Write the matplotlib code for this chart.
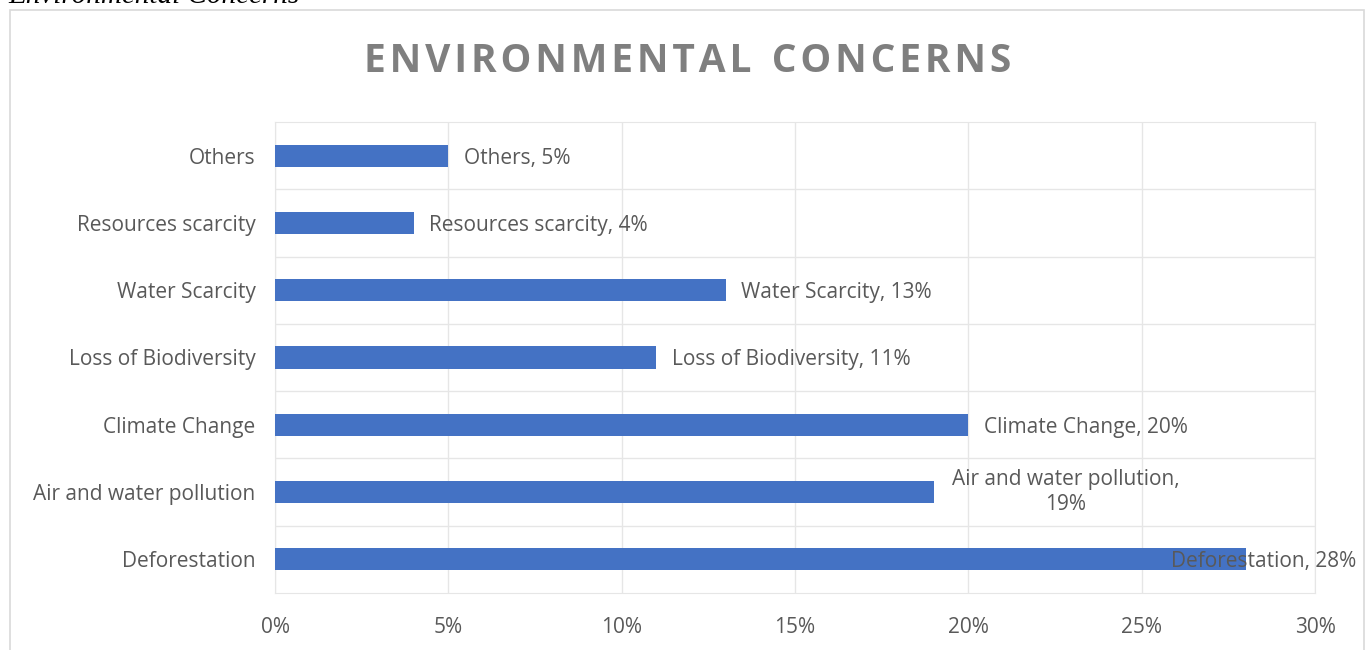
import matplotlib.pyplot as plt
from matplotlib.patches import Rectangle

categories = ["Deforestation", "Air and water pollution", "Climate Change",
              "Loss of Biodiversity", "Water Scarcity", "Resources scarcity", "Others"]
shares = [28, 19, 20, 11, 13, 4, 5]
xticks = [0, 5, 10, 15, 20, 25, 30]

BAR = "#4472c4"
TXT = "#595959"
GRID = "#e6e6e6"

plt.rcParams["font.family"] = ["Open Sans", "DejaVu Sans"]

fig = plt.figure(figsize=(13.67, 6.5), dpi=100)
ax = fig.add_axes([275 / 1367, 1 - 593 / 650, 1040 / 1367, 471 / 650])

y = list(range(len(categories)))
ax.barh(y, shares, height=0.33, color=BAR, zorder=3)

ax.set_xlim(0, 30)
ax.set_ylim(-0.5, len(categories) - 0.5)
ax.set_xticks(xticks)
ax.set_xticklabels([f"{t}%" for t in xticks])
ax.set_yticks(y)
ax.set_yticklabels(categories)
ax.set_yticks([i + 0.5 for i in y[:-1]], minor=True)
ax.tick_params(axis="both", which="both", length=0, colors=TXT, labelsize=15)
ax.tick_params(axis="x", pad=17)
ax.tick_params(axis="y", pad=14)
ax.grid(True, axis="x", color=GRID, lw=1, zorder=0)
ax.grid(True, axis="y", which="minor", color=GRID, lw=1, zorder=0)
for s in ax.spines.values():
    s.set_color(GRID)

# value labels next to each bar
for yi, name, v in zip(y, categories, shares):
    if name == "Air and water pollution":
        ax.text(v + 3.8, yi, "Air and water pollution,\n19%",
                ha="center", va="center", fontsize=15, color=TXT, linespacing=1.25)
    elif v >= 25:
        ax.text(31.2, yi, f"{name}, {v}%", ha="right", va="center_baseline",
                fontsize=15, color=TXT, zorder=4)
    else:
        ax.text(v + 0.45, yi, f"{name}, {v}%", ha="left", va="center_baseline",
                fontsize=15, color=TXT)

title = "  ".join("\u200a".join(w) for w in "ENVIRONMENTAL CONCERNS".split())
fig.text(688 / 1367, 1 - 61 / 650, title,
         ha="center", va="center", fontsize=28, fontweight="bold", color="#7f7f7f")

# chart frame and clipped caption above it
fig.patches.append(Rectangle((10 / 1367, -0.01), 1354 / 1367, 1 - 10 / 650 + 0.01,
                             transform=fig.transFigure, fill=False,
                             edgecolor="#d9d9d9", lw=1.2))
fig.text(8 / 1367, 1 + 4 / 650, "Environmental Concerns", ha="left", va="center",
         fontsize=21, style="italic", family="Liberation Serif", color="black")

fig.savefig("out.png", dpi=100)
